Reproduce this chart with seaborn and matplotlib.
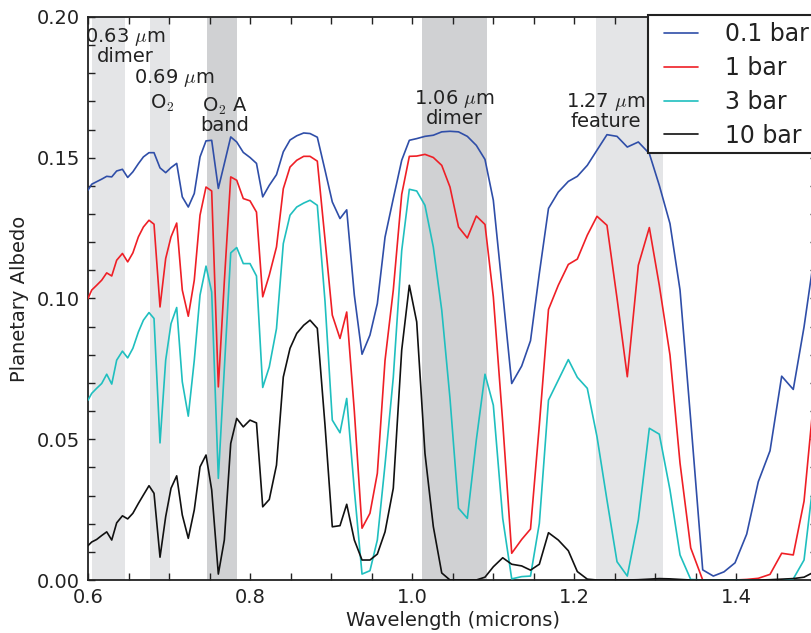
import matplotlib
matplotlib.use("Agg")
import matplotlib.pyplot as plt
import seaborn as sns
import pandas as pd
from matplotlib.patches import Rectangle
from matplotlib.ticker import MultipleLocator, FormatStrFormatter

# ---------------- data ----------------
wavelength = [
    0.6000, 0.6046, 0.6107, 0.6169, 0.6231, 0.6293, 0.6354, 0.6425, 0.6490, 0.6554,
    0.6622, 0.6684, 0.6753, 0.6815, 0.6889, 0.6959, 0.7025, 0.7095, 0.7164, 0.7238,
    0.7312, 0.7383, 0.7457, 0.7527, 0.7609, 0.7683, 0.7762, 0.7836, 0.7917, 0.8000,
    0.8080, 0.8157, 0.8238, 0.8327, 0.8411, 0.8494, 0.8577, 0.8663, 0.8741, 0.8831,
    0.8926, 0.9016, 0.9111, 0.9194, 0.9288, 0.9383, 0.9481, 0.9572, 0.9667, 0.9769,
    0.9873, 0.9967, 1.0058, 1.0160, 1.0263, 1.0367, 1.0469, 1.0574, 1.0683, 1.0794,
    1.0901, 1.1004, 1.1120, 1.1231, 1.1354, 1.1463, 1.1572, 1.1685, 1.1806, 1.1930,
    1.2041, 1.2164, 1.2284, 1.2407, 1.2531, 1.2658, 1.2794, 1.2930, 1.3053, 1.3185,
    1.3309, 1.3441, 1.3589, 1.3720, 1.3852, 1.3988, 1.4132, 1.4275, 1.4420, 1.4564,
    1.4707, 1.4840, 1.4975,
]

albedo_01bar = [
    0.1385, 0.1406, 0.1415, 0.1424, 0.1434, 0.1432, 0.1453, 0.1459, 0.1430, 0.1450,
    0.1479, 0.1503, 0.1518, 0.1518, 0.1464, 0.1447, 0.1465, 0.1480, 0.1361, 0.1325,
    0.1373, 0.1503, 0.1560, 0.1562, 0.1391, 0.1479, 0.1574, 0.1556, 0.1519, 0.1501,
    0.1480, 0.1361, 0.1402, 0.1440, 0.1521, 0.1563, 0.1578, 0.1588, 0.1586, 0.1573,
    0.1456, 0.1343, 0.1284, 0.1315, 0.1012, 0.0802, 0.0870, 0.0982, 0.1218, 0.1355,
    0.1491, 0.1562, 0.1568, 0.1576, 0.1580, 0.1592, 0.1594, 0.1592, 0.1576, 0.1544,
    0.1494, 0.1349, 0.1019, 0.0698, 0.0760, 0.0850, 0.1089, 0.1320, 0.1378, 0.1416,
    0.1434, 0.1473, 0.1527, 0.1582, 0.1576, 0.1538, 0.1556, 0.1515, 0.1402, 0.1266,
    0.1030, 0.0568, 0.0036, 0.0014, 0.0029, 0.0061, 0.0163, 0.0349, 0.0459, 0.0724,
    0.0677, 0.0899, 0.1170,
]

albedo_1bar = [
    0.1000, 0.1030, 0.1047, 0.1065, 0.1091, 0.1080, 0.1136, 0.1160, 0.1130, 0.1162,
    0.1219, 0.1254, 0.1278, 0.1264, 0.0970, 0.1142, 0.1219, 0.1268, 0.1030, 0.0937,
    0.1065, 0.1296, 0.1396, 0.1382, 0.0686, 0.1060, 0.1432, 0.1420, 0.1355, 0.1347,
    0.1307, 0.1006, 0.1083, 0.1183, 0.1390, 0.1467, 0.1491, 0.1505, 0.1505, 0.1488,
    0.1210, 0.0941, 0.0858, 0.0952, 0.0600, 0.0184, 0.0237, 0.0379, 0.0780, 0.1030,
    0.1370, 0.1505, 0.1506, 0.1512, 0.1501, 0.1473, 0.1396, 0.1254, 0.1215, 0.1293,
    0.1263, 0.1006, 0.0560, 0.0095, 0.0144, 0.0181, 0.0550, 0.0961, 0.1047, 0.1121,
    0.1140, 0.1225, 0.1292, 0.1260, 0.1001, 0.0722, 0.1118, 0.1252, 0.1047, 0.0799,
    0.0415, 0.0114, 0.0000, 0.0000, 0.0000, 0.0000, 0.0002, 0.0006, 0.0020, 0.0095,
    0.0089, 0.0280, 0.0690,
]

albedo_3bar = [
    0.0639, 0.0663, 0.0681, 0.0698, 0.0731, 0.0696, 0.0781, 0.0813, 0.0789, 0.0823,
    0.0881, 0.0923, 0.0950, 0.0929, 0.0487, 0.0781, 0.0911, 0.0968, 0.0704, 0.0582,
    0.0780, 0.1012, 0.1115, 0.1023, 0.0361, 0.0750, 0.1162, 0.1181, 0.1124, 0.1124,
    0.1080, 0.0684, 0.0757, 0.0893, 0.1195, 0.1296, 0.1325, 0.1339, 0.1349, 0.1331,
    0.0990, 0.0568, 0.0523, 0.0645, 0.0320, 0.0021, 0.0033, 0.0142, 0.0410, 0.0720,
    0.1170, 0.1388, 0.1382, 0.1331, 0.1183, 0.0959, 0.0645, 0.0255, 0.0219, 0.0497,
    0.0731, 0.0621, 0.0219, 0.0004, 0.0012, 0.0014, 0.0201, 0.0639, 0.0710, 0.0783,
    0.0720, 0.0681, 0.0509, 0.0284, 0.0065, 0.0014, 0.0213, 0.0539, 0.0518, 0.0320,
    0.0089, 0.0002, 0.0000, 0.0000, 0.0000, 0.0000, 0.0000, 0.0000, 0.0000, 0.0000,
    0.0004, 0.0071, 0.0400,
]

albedo_10bar = [
    0.0122, 0.0135, 0.0144, 0.0158, 0.0171, 0.0142, 0.0203, 0.0228, 0.0217, 0.0237,
    0.0272, 0.0302, 0.0335, 0.0308, 0.0081, 0.0225, 0.0326, 0.0370, 0.0231, 0.0148,
    0.0249, 0.0402, 0.0444, 0.0320, 0.0021, 0.0142, 0.0485, 0.0574, 0.0544, 0.0568,
    0.0558, 0.0260, 0.0286, 0.0408, 0.0721, 0.0823, 0.0876, 0.0905, 0.0923, 0.0894,
    0.0550, 0.0189, 0.0193, 0.0269, 0.0142, 0.0071, 0.0071, 0.0092, 0.0171, 0.0326,
    0.0817, 0.1047, 0.0917, 0.0450, 0.0190, 0.0025, 0.0000, 0.0000, 0.0000, 0.0000,
    0.0010, 0.0047, 0.0079, 0.0056, 0.0050, 0.0035, 0.0056, 0.0168, 0.0142, 0.0104,
    0.0030, 0.0003, 0.0000, 0.0000, 0.0000, 0.0000, 0.0001, 0.0003, 0.0005, 0.0004,
    0.0002, 0.0000, 0.0000, 0.0000, 0.0000, 0.0000, 0.0000, 0.0000, 0.0001, 0.0003,
    0.0005, 0.0010, 0.0030,
]

series_labels = ["0.1 bar", "1 bar", "3 bar", "10 bar"]
series_colors = ["#2f4ea8", "#ef1f26", "#1fbfbf", "#111111"]

# shaded absorption features
band_starts = [0.605, 0.6765, 0.7465, 1.0123, 1.227]
band_ends = [0.646, 0.701, 0.7835, 1.0922, 1.3095]
band_shades = ["#e4e5e7", "#e4e5e7", "#d0d1d3", "#d0d1d3", "#e4e5e7"]

# two-line feature annotations drawn as one block
block_text = ["0.63 $\\mu$m\ndimer", "O$_2$ A\nband",
              "1.06 $\\mu$m\ndimer", "1.27 $\\mu$m\nfeature"]
block_x = [0.6457, 0.7691, 1.0525, 1.2395]
block_y = [0.1898, 0.1650, 0.1677, 0.1667]

# the 0.69 um label, whose lines sit further apart
o2_text = ["0.69 $\\mu$m", "O$_2$"]
o2_x = [0.7062, 0.6920]
o2_y = [0.1765, 0.1673]

# ---------------- build long table ----------------
frames = []
for lab, vals in zip(series_labels,
                     [albedo_01bar, albedo_1bar, albedo_3bar, albedo_10bar]):
    frames.append(pd.DataFrame({"Wavelength": wavelength, "Albedo": vals,
                                "Pressure": lab}))
df = pd.concat(frames, ignore_index=True)

# ---------------- style ----------------
sns.set_style("ticks")
plt.rcParams["font.family"] = ["DejaVu Sans"]
plt.rcParams["mathtext.fontset"] = "cm"
plt.rcParams["text.color"] = "#222222"
plt.rcParams["axes.labelcolor"] = "#222222"
plt.rcParams["xtick.color"] = "#222222"
plt.rcParams["ytick.color"] = "#222222"

W, H = 811, 633
fig = plt.figure(figsize=(W / 100, H / 100), dpi=100)
ax = fig.add_axes([88 / W, 1 - 580 / H, (817 - 88) / W, (580 - 17) / H])

for s, e, c in zip(band_starts, band_ends, band_shades):
    ax.axvspan(s, e, color=c, lw=0, zorder=0)

sns.lineplot(data=df, x="Wavelength", y="Albedo", hue="Pressure",
             hue_order=series_labels,
             palette=dict(zip(series_labels, series_colors)),
             estimator=None, sort=False, linewidth=1.2, ax=ax, zorder=3)

for txt, x, y in zip(block_text, block_x, block_y):
    ax.text(x, y, txt, ha="center", va="center", fontsize=14,
            multialignment="center", linespacing=0.93, zorder=4)
for txt, x, y in zip(o2_text, o2_x, o2_y):
    ax.text(x, y, txt, ha="center", va="baseline", fontsize=14, zorder=4)

ax.set_xlim(0.6, 1.5)
ax.set_ylim(0.0, 0.2)
ax.xaxis.set_major_locator(MultipleLocator(0.2))
ax.xaxis.set_minor_locator(MultipleLocator(0.05))
ax.yaxis.set_major_locator(MultipleLocator(0.05))
ax.yaxis.set_minor_locator(MultipleLocator(0.01))
ax.xaxis.set_major_formatter(FormatStrFormatter("%.1f"))
ax.yaxis.set_major_formatter(FormatStrFormatter("%.2f"))
ax.tick_params(which="both", direction="in", top=True, right=True,
               length=5, width=1, color="#222222")
ax.tick_params(which="major", labelsize=14, pad=6)
for sp in ax.spines.values():
    sp.set_linewidth(1.3)
    sp.set_color("#222222")

ax.set_xlabel("Wavelength (microns)", fontsize=14, labelpad=3)
ax.set_ylabel("Planetary Albedo", fontsize=14, labelpad=5)

# legend box (frame drawn as a rectangle in figure pixels, extends past the edge)
frame = Rectangle((648 / W, 1 - 153 / H), 200 / W, (153 - 15) / H,
                  transform=fig.transFigure, facecolor="white",
                  edgecolor="#222222", linewidth=1.5, clip_on=False, zorder=9)
ax.add_artist(frame)

handles, labels = ax.get_legend_handles_labels()
leg = ax.legend(handles, labels, loc="upper left",
                bbox_to_anchor=(664 / W, 1 - 22 / H),
                bbox_transform=fig.transFigure, borderaxespad=0,
                fontsize=17, frameon=False, borderpad=0.0, handlelength=1.45,
                handletextpad=1.15, labelspacing=0.42)
leg.set_zorder(10)
for h in leg.get_lines():
    h.set_linewidth(1.2)

fig.savefig("out.png", dpi=100)
